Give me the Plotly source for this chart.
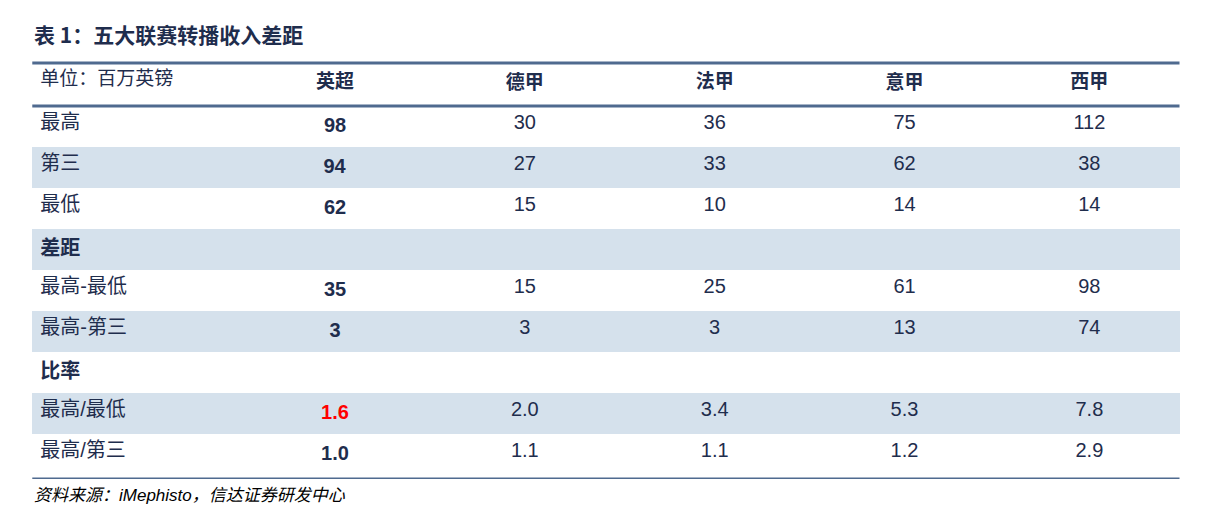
import plotly.graph_objects as go

# 表 1 数据
leagues = ["英超", "德甲", "法甲", "意甲", "西甲"]
row_labels = ["最高", "第三", "最低", "差距", "最高-最低", "最高-第三", "比率", "最高/最低", "最高/第三"]
epl = ["98", "94", "62", "", "35", "3", "", "1.6", "1.0"]
bundesliga = ["30", "27", "15", "", "15", "3", "", "2.0", "1.1"]
ligue1 = ["36", "33", "10", "", "25", "3", "", "3.4", "1.1"]
seriea = ["75", "62", "14", "", "61", "13", "", "5.3", "1.2"]
laliga = ["112", "38", "14", "", "98", "74", "", "7.8", "2.9"]
section_rows = ["差距", "比率"]
highlight = "1.6"

NAVY = "#1f2d4d"
BLUE = "#d5e1ec"
FONT = "Liberation Sans, Noto Sans CJK SC"

labels = [f"<b>{r}</b>" if r in section_rows else r for r in row_labels]
epl_txt = [f"<b>{v}</b>" if v else "" for v in epl]
epl_colors = ["#ff0000" if v == highlight else NAVY for v in epl]
row_fill = ["white" if i % 2 == 0 else BLUE for i in range(len(row_labels))]
fills = [row_fill] * 6
font_colors = [[NAVY] * len(row_labels), epl_colors] + [[NAVY] * len(row_labels)] * 4

fig = go.Figure(go.Table(
    domain=dict(x=[0.02, 0.965], y=[0.06, 0.892]),
    columnwidth=[208, 190, 190, 190, 190, 180],
    header=dict(
        values=["单位：百万英镑"] + [f"<b>{l}</b>" for l in leagues],
        align=["left"] + ["center"] * 5,
        fill_color="white",
        line=dict(width=1, color="white"),
        font=dict(family=FONT, size=19, color=NAVY),
        height=43,
    ),
    cells=dict(
        values=[labels, epl_txt, bundesliga, ligue1, seriea, laliga],
        align=["left"] + ["center"] * 5,
        fill_color=fills,
        line=dict(width=1, color=fills),
        font=dict(family=FONT, size=20, color=font_colors),
        height=41,
    ),
))

fig.add_shape(type="line", xref="paper", yref="paper", x0=0.02, x1=0.965, y0=0.892, y1=0.892,
              line=dict(color="#4f6a8f", width=3))
fig.add_shape(type="line", xref="paper", yref="paper", x0=0.02, x1=0.965, y0=0.808, y1=0.808,
              line=dict(color="#4f6a8f", width=3))
fig.add_shape(type="line", xref="paper", yref="paper", x0=0.02, x1=0.965, y0=0.078, y1=0.078,
              line=dict(color="#4f6a8f", width=1.5))

fig.add_annotation(text="<b>表 1：五大联赛转播收入差距</b>", xref="paper", yref="paper", x=0.02, y=0.915,
                   xanchor="left", yanchor="bottom", showarrow=False,
                   font=dict(family="Noto Sans CJK SC", size=21, color=NAVY))
fig.add_annotation(text="<i>资料来源：iMephisto，信达证券研发中心</i>", xref="paper", yref="paper", x=0.02, y=0.045,
                   xanchor="left", yanchor="middle", showarrow=False,
                   font=dict(family=FONT, size=17, color="#000000"))

fig.update_layout(width=1214, height=510, margin=dict(l=0, r=0, t=0, b=0),
                  paper_bgcolor="white", plot_bgcolor="white")
fig.write_html("out.html")
